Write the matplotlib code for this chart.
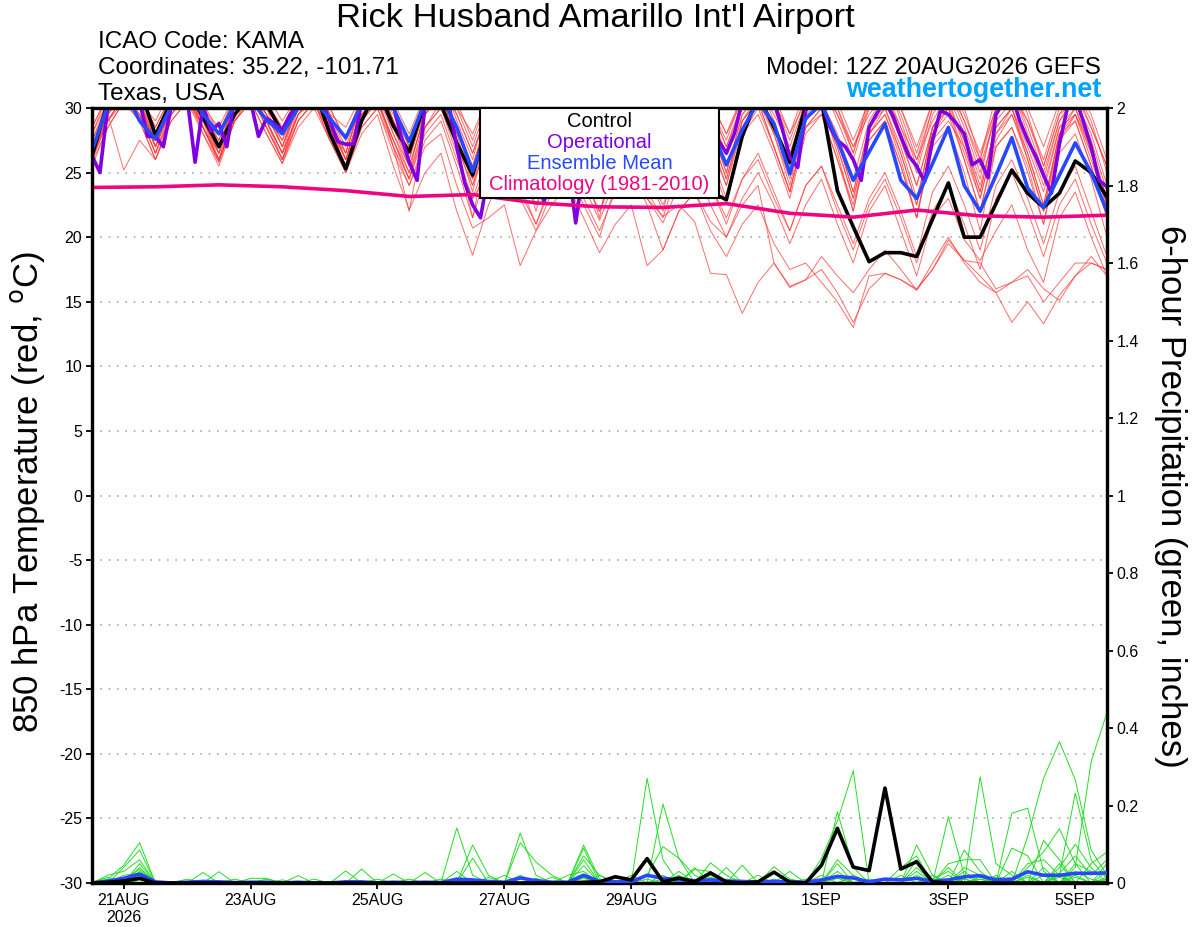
import matplotlib
matplotlib.use("Agg")
import matplotlib.pyplot as plt
from matplotlib.patches import Rectangle
import numpy as np
from datetime import datetime, timedelta

plt.rcParams['font.family'] = ['Liberation Sans', 'DejaVu Sans']

# ── time axes (GEFS run 12Z 20AUG2026) ───────────────────────
start = datetime(2026, 8, 20, 12)
times6 = [start + timedelta(hours=6 * k) for k in range(65)]
times3 = [start + timedelta(hours=3 * k) for k in range(129)]
times24 = [start + timedelta(hours=24 * k) for k in range(17)]

tick_dates = [datetime(2026, 8, 21), datetime(2026, 8, 23), datetime(2026, 8, 25),
              datetime(2026, 8, 27), datetime(2026, 8, 29), datetime(2026, 9, 1),
              datetime(2026, 9, 3), datetime(2026, 9, 5)]
tick_labels = ["21AUG\n2026", "23AUG", "25AUG", "27AUG", "29AUG", "1SEP", "3SEP", "5SEP"]

# ── 850 hPa temperature (deg C) ─────────────────────────────
control_t = [26.3, 30.5, 32, 31.5, 27.9, 30.5, 31.5, 29.3, 27.0, 29.5, 31, 30.3, 28.1,
             30.5, 31.5, 28.0, 25.3, 29.0, 31.5, 28.6, 26.6, 30.5, 30.3, 27.3, 24.8,
             29, 31.5, 30, 26, 29.5, 31.5, 30, 26.5, 30, 31.5, 30, 26, 29, 30, 23.5, 22.9,
             27.8, 31, 28.5, 25.8, 30.2, 30.5, 23.6, 20.8, 18.1, 18.8, 18.8, 18.5,
             21.4, 24.2, 20.0, 20.0, 22.6, 25.2, 23.4, 22.3, 23.4, 25.9, 25.0, 23.1]

mean_t = [26.7, 30.2, 31.5, 29.0, 27.6, 30.2, 31.5, 29.5, 28.0, 30.3, 30.6, 29.1, 28.0,
          30.0, 30.5, 29.2, 27.7, 30.3, 31, 30, 27.4, 30.5, 31, 28.5, 25.1,
          28.5, 31, 30.5, 27.5, 30, 31.5, 30.5, 27.5, 30, 31.5, 30.5, 27.5, 30, 31, 28.5, 25.6,
          28.3, 30.5, 28.8, 24.9, 29.2, 30.3, 27.5, 24.4, 26.6, 28.8, 24.4, 23.0,
          25.7, 28.5, 24.0, 22.0, 24.8, 27.7, 23.8, 22.3, 24.8, 27.3, 25.0, 22.0]

# operational run is 3-hourly
oper_t = [26.3, 25.0, 30.2, 31.5, 32, 31.5, 30.5, 27.8,
          27.8, 27.0, 30.2, 31.5, 30.8, 25.8, 30.2, 28.2,
          28.8, 27.0, 30.8, 32, 30.5, 27.8, 29.2, 28.8,
          28.3, 29.5, 30.3, 31.5, 31.5, 30.5, 29.0, 27.4,
          27.2, 27.2, 30.5, 31.5, 32, 31.5, 30.2, 27.8,
          25.8, 24.4, 30.2, 31.5, 31.5, 30.3, 27.0, 24.2,
          22.5, 21.5, 25, 29, 31, 31.5, 30, 27,
          25, 22.7, 25.5, 29, 26, 21.1, 25.5, 29.5,
          30.5, 30, 28, 26, 25, 27, 30, 31,
          30.5, 29, 27, 26, 27.5, 30, 29.5, 27.5,
          26.5, 28, 30.5, 31.5, 31.5, 31, 30.5, 28.5,
          26.2, 25.4, 29.8, 30.5, 30.5, 28.6, 27.5, 27.0,
          26.0, 24.4, 28.5, 29.6, 30.5, 29.4, 27.8, 26.3,
          25.5, 24.3, 27.5, 29.8, 29.5, 28.8, 28.0, 25.6,
          26.0, 24.6, 29.5, 30.5, 31, 29, 27.5, 26.3,
          24.8, 23.4, 27.2, 30, 30.8, 29, 27, 24.4,
          23.9]

# daily climatology 1981-2010
clim_t = [23.85, 23.9, 24.05, 23.9, 23.6, 23.15, 23.3, 22.65, 22.35,
          22.3, 22.6, 21.85, 21.55, 22.1, 21.65, 21.55, 21.7]

# ensemble members
ens_t = [
    [27.5, 30.5, 32.5, 31, 28.5, 31, 32.5, 30.5, 28, 31, 33, 31, 29, 31, 32.5, 30, 27.5,
     31, 32.5, 30.5, 28, 31, 32.5, 30, 27, 30.5, 33, 31.5, 28.5, 31, 33, 31, 28,
     31.5, 33, 31, 28.5, 31, 32.5, 30.5, 28, 31, 33, 31, 28, 31.5, 33, 30.5, 27.5,
     30.5, 32.5, 30, 27, 30.5, 32, 29.5, 26.5, 30, 32, 30, 27, 30.5, 32, 29.5, 26],
    [28.5, 31, 32, 30.5, 29, 31.5, 32.5, 30, 28.5, 31, 32, 30.5, 28, 30.5, 32, 29.5, 28.5,
     31, 33, 30, 27.5, 30.5, 32, 30, 28, 31, 32.5, 31, 27.5, 30.5, 32.5, 30.5, 27,
     31, 33, 30, 27.5, 31, 32, 30, 27, 30.5, 32.5, 30.5, 27.5, 31, 33, 30, 26.5,
     31, 32.5, 29, 25.5, 30, 32, 30, 26, 31, 32.5, 29.5, 25.5, 29.5, 31.5, 29, 25],
    [26, 29.5, 31.5, 30.5, 27.5, 30.5, 32, 30, 27, 30.5, 32, 30, 28, 30, 31.5, 28.5, 26.5,
     30.5, 32, 29, 26.5, 30, 32, 29.5, 26.5, 30, 32.5, 30.5, 27, 30.5, 32, 30, 27.5,
     30, 32.5, 31, 28, 31, 32.5, 30, 27, 30, 32, 30.5, 28, 30.5, 32, 29.5, 27,
     30, 32, 30, 26.5, 30.5, 32, 29, 25.5, 29.5, 31.5, 29, 26, 30, 31.5, 28.5, 25.5],
    [27, 30, 32, 31.5, 28, 31, 32, 29.5, 26.5, 30, 32, 30.5, 28.5, 31, 32, 29, 26,
     30, 32.5, 30, 27, 31, 32.5, 29, 26, 30.5, 32, 30, 27, 30.5, 32.5, 31, 28,
     31, 32.5, 30.5, 27, 30.5, 32, 29.5, 26.5, 30, 31.5, 29.5, 27, 30.5, 32, 29, 26,
     30, 31.5, 28.5, 25, 29.5, 31.5, 29, 26, 30, 31.5, 28, 24.5, 29, 31, 28.5, 25.5],
    [28, 30.5, 32, 30, 27, 30, 31.5, 29.5, 27.5, 31, 32.5, 30, 27, 30.5, 32, 30, 27.5,
     30, 31.5, 29.5, 27, 30.5, 32, 29.5, 26.5, 30, 32, 30.5, 28, 31, 32.5, 30, 27,
     30.5, 32, 30.5, 27.5, 30.5, 32.5, 30, 27.5, 31, 32.5, 30, 26.5, 30, 32, 30, 27,
     29.5, 31, 28.5, 26, 30, 31.5, 28.5, 25, 29.5, 31, 29, 25.5, 29.5, 30.5, 28, 24],
    [26.5, 29, 31, 30, 27.5, 30.5, 32, 30, 28, 30, 31.5, 29.5, 27.5, 31, 32.5, 29.5, 27,
     30.5, 32, 29, 26, 30.5, 32.5, 30.5, 27.5, 31, 32.5, 30, 26.5, 30, 32, 30.5, 27.5,
     30.5, 32, 29.5, 26.5, 30, 32, 30.5, 28, 30.5, 32, 29, 25.5, 30, 31.5, 29.5, 26.5,
     30.5, 32, 29.5, 26, 29, 31, 28, 24.5, 30, 31.5, 28.5, 25, 29, 30.5, 27.5, 23.5],
    [27, 29.5, 25.2, 27.5, 26, 29.5, 31.5, 29, 26.5, 30, 31.5, 29, 26.5, 29.5, 31, 28.5, 26,
     30, 31.5, 28, 25.5, 29.5, 31, 28.5, 25, 29, 31, 29.5, 25.5, 29.5, 31, 29, 25,
     29, 31, 29, 25.5, 29.5, 31, 28, 24.5, 29, 31, 28.5, 25, 29.5, 30.5, 27.5, 23.5,
     28.5, 30, 27, 23, 28, 30, 27.5, 23.5, 28.5, 30, 26.5, 22.5, 28, 29.5, 27, 22],
    [25.5, 28.5, 30.5, 29.5, 26.5, 29.5, 31, 28.5, 26, 29, 31, 29.5, 27, 30, 31, 28, 25.5,
     29, 30.5, 27.5, 24.5, 29.5, 31, 28, 24, 28.5, 30.5, 28.5, 25, 29, 30.5, 28, 24.5,
     28.5, 30.5, 28.5, 25, 29, 30.5, 27.5, 24, 29, 30.5, 27, 23.5, 28.5, 30, 27, 23,
     28, 29.5, 26.5, 22.5, 28.5, 30, 26, 22, 27.5, 29.5, 26.5, 22.5, 28, 29, 25.5, 21.5],
    [26.5, 29, 31, 30, 27, 30, 31.5, 28.5, 26.5, 30.5, 31.5, 28.5, 26, 29.5, 31.5, 28.5, 25.5,
     29.5, 31, 28, 25, 30, 31, 27.5, 24.5, 29, 30, 27, 24, 28.5, 30, 27.5, 24.5,
     28, 29.5, 27, 23.5, 28.5, 29.5, 26.5, 23, 28, 30, 27, 23.5, 28.5, 29.5, 26, 22.5,
     27.5, 29, 25.5, 21.5, 28, 29.5, 26, 22, 27, 28.5, 25, 21, 27.5, 29, 25.5, 21.5],
    [27, 30, 31.5, 30, 27.5, 30, 31, 29, 26.5, 29.5, 31, 29, 26, 30, 31.5, 29, 26,
     30, 31.5, 28.5, 25.5, 29.5, 31, 27.5, 23.5, 28.5, 30.5, 28.5, 25, 29.5, 31, 29, 25.5,
     29, 30.5, 28, 24.5, 29, 31, 28.5, 25, 29.5, 31, 28, 24, 29, 30.5, 27.5, 23.5,
     28.5, 30.5, 27.5, 24, 28.5, 30, 26.5, 23, 28, 30, 27, 23.5, 28.5, 29.5, 26, 22.5],
    [28, 31, 32, 30.5, 28, 30.5, 31.5, 29, 27, 30.5, 32, 29.5, 27.5, 30, 31.5, 28.5, 25.5,
     29.5, 31, 28.5, 26, 30, 31.5, 28, 25.5, 29.5, 31, 28, 25, 29, 30.5, 28.5, 25.5,
     29.5, 31, 28.5, 25, 29, 30, 27, 24, 28.5, 30.5, 28, 24.5, 29, 30.5, 26.5, 22,
     28, 29.5, 26, 21.5, 27.5, 29, 27, 23, 28, 29.5, 26, 22, 27.5, 29.5, 26.5, 22.5],
    [27, 30.5, 32, 30.5, 27.5, 31, 32, 29.5, 27.5, 30.5, 31.5, 29.5, 27, 30.5, 31.5, 29, 26.5,
     30.5, 32, 29, 26.5, 30, 31.5, 28.5, 25.5, 29.5, 31.5, 29, 26, 30, 31.5, 28.5, 25.5,
     29.5, 31, 29, 26, 30, 31.5, 28.5, 25, 29.5, 31, 28.5, 25, 29, 30.5, 28, 24.5,
     29, 31, 27.5, 24, 28.5, 30.5, 27, 23.5, 29, 30.5, 27.5, 24, 28.5, 30, 26.5, 23],
    [26, 29.5, 31.5, 30.5, 27, 30.5, 31.5, 29, 26, 30, 31.5, 29, 26.5, 30.5, 31, 28, 25.5,
     30, 31, 27, 22, 28.5, 30.5, 27, 21.5, 27.5, 29.5, 26, 22, 27, 28.5, 25.5, 21.5,
     27.5, 28.5, 25, 22, 27, 29, 26, 22.5, 28, 29.5, 26.5, 23, 28, 29.5, 26, 22,
     27.5, 29, 25.5, 21.5, 27, 28.5, 25, 20.5, 27, 28.5, 25.5, 21, 26.5, 28, 24.5, 20],
    [28.5, 31, 33, 31, 28.5, 31, 32.5, 30, 27, 30.5, 32, 30.5, 28, 31, 32, 29.5, 26.5,
     30.5, 32, 29, 26.5, 30, 31.5, 28.5, 24.5, 29.5, 31, 29, 26, 29.5, 30.5, 28, 24.5,
     29, 30.5, 28.5, 25.5, 29.5, 31, 28, 24.5, 29, 30.5, 27, 23.5, 28.5, 30, 27, 23,
     28, 30, 26.5, 22.5, 28.5, 30.5, 27.5, 24, 28.5, 30, 26, 22, 28, 30, 27, 23],
    [27, 30, 31.5, 30, 27, 30, 31, 28.5, 26, 29.5, 31, 28.5, 26, 29, 30.5, 27.5, 25,
     28, 29.5, 25.5, 22.1, 25, 26.5, 22, 18.6, 22.5, 25, 23.5, 21, 24.5, 26.5, 24.5, 22,
     25.5, 27.5, 25, 22.5, 25, 26.5, 24, 21.5, 24.5, 26, 23, 20.5, 24, 25.5, 22.5, 19.5,
     23, 25, 22, 18.5, 23.5, 25.5, 22.5, 19, 24, 26, 23, 19.5, 23.5, 25.5, 22, 18.5],
    [26.5, 29.5, 31, 29.5, 26.5, 30, 31, 28, 25.8, 29, 30.5, 28, 25.7, 29, 30.5, 28, 25,
     28.5, 30, 26.5, 24, 27, 28, 24, 20.7, 21.5, 22.5, 17.8, 20.5, 23.5, 25, 22.5, 20,
     24, 26, 23.5, 21.5, 25.5, 27, 24, 21, 24.5, 26.5, 23.5, 20.5, 24, 25.5, 22, 19,
     22.5, 24.5, 21.5, 18, 22, 24, 21, 17.5, 23, 25, 22, 18.5, 22.5, 24.5, 21, 18],
    [25.8, 28.5, 30.5, 29, 26, 29, 30.5, 28.5, 25.8, 29.5, 31, 28.5, 26, 29, 30.5, 27.5, 25.5,
     29, 30.5, 27, 24.5, 28, 29.5, 26, 23, 25, 26.5, 23, 20.5, 22.5, 24, 21.5, 18.8,
     21, 22.5, 17.8, 19, 22, 23.5, 21.2, 20, 23, 25, 22.5, 19.5, 22.5, 24.5, 21, 18,
     22, 24, 20.5, 17, 21.5, 23, 19.8, 18.2, 20.5, 22.5, 19, 16.5, 21.5, 23.5, 20, 17],
    [26, 29, 31, 29.5, 26.5, 29.5, 31, 28.5, 26, 29, 30.5, 29, 26.5, 29.5, 30.5, 28, 25.5,
     29.5, 30.5, 27.5, 24.5, 28.5, 30, 27, 24, 27.5, 29, 26, 23, 26, 27.5, 24.5, 22,
     25, 26.5, 23, 21.6, 22.5, 21.2, 17.2, 17.1, 14.1, 16.5, 18, 16.1, 16.7, 17.5, 15.7, 13.4,
     16, 17.2, 16.7, 15.9, 17.5, 19.8, 18.2, 17, 15.7, 16.5, 17.5, 16, 15.1, 17, 18, 17.5],
    [27.5, 30, 31.5, 30, 27, 30.5, 31.5, 28.5, 26, 29.5, 31, 29, 26.5, 29.5, 31, 28.5, 26,
     29.5, 30.5, 27.5, 25, 28.5, 30, 26.5, 23, 26.5, 28, 25, 22.5, 25.5, 27.5, 24, 21.3,
     24.5, 26, 23, 21.1, 24, 25.5, 22.5, 20, 22.5, 24, 18, 16.2, 16.7, 18.5, 17, 15.7,
     17.5, 19, 17.5, 15.9, 18, 20, 18, 16.5, 15.7, 13.4, 15, 13.3, 15.5, 17, 18.5, 17],
    [26, 29, 30.5, 29, 26, 29, 30.5, 28, 25.5, 29, 30.5, 28, 25.7, 28.5, 30, 27.5, 25,
     28.5, 30, 27, 24, 27.5, 29, 25.5, 21.5, 25.5, 27, 24, 21, 24, 26, 23, 20.5,
     23.5, 25, 22.5, 19, 22, 23.5, 20.5, 18.5, 21, 22.5, 19.5, 17.5, 18, 16.5, 15, 13,
     17, 17.2, 16.7, 16, 17.5, 19.5, 18.2, 18, 16, 16.5, 17, 15, 16.5, 18, 18, 17.5],
]

# ── 6-hour precipitation (inches) ───────────────────────────
control_p = [0, 0.002, 0.005, 0.012, 0, 0, 0, 0, 0, 0, 0, 0, 0, 0, 0, 0, 0,
             0, 0, 0, 0, 0, 0, 0, 0, 0, 0, 0, 0, 0, 0, 0.002, 0.003,
             0.016, 0.008, 0.063, 0.003, 0.013, 0.003, 0.026, 0.003, 0, 0.003, 0.028, 0.002,
             0, 0.046, 0.141, 0.041, 0.032, 0.245, 0.036, 0.055, 0.003,
             0, 0, 0, 0, 0, 0, 0, 0, 0, 0, 0]

mean_p = [0, 0.005, 0.012, 0.023, 0.003, 0, 0.002, 0.004, 0.003, 0.001, 0.002, 0.002, 0,
          0.002, 0, 0, 0.003, 0.003, 0, 0.002, 0.001, 0.002, 0.001, 0.01, 0.008,
          0.004, 0.002, 0.013, 0.006, 0.002, 0.002, 0.02, 0.004, 0.003, 0.003, 0.02, 0.012,
          0.008, 0.006, 0.008, 0.005, 0.004, 0.002, 0.004, 0.003, 0.002, 0.008, 0.017, 0.013,
          0.003, 0.01, 0.008, 0.012, 0.004, 0.008, 0.016, 0.019, 0.008, 0.01, 0.029, 0.02,
          0.02, 0.025, 0.025, 0.026]

# non-zero 6-hour totals of each member, keyed by time step
ens_p_events = [
    {1: 0.01, 2: 0.046, 3: 0.104, 23: 0.142, 24: 0.02, 35: 0.27, 36: 0.06, 47: 0.184,
     48: 0.04, 59: 0.12, 60: 0.27, 61: 0.365, 62: 0.266, 63: 0.085, 64: 0.02},
    {2: 0.04, 3: 0.085, 17: 0.036, 27: 0.129, 28: 0.02, 36: 0.204, 37: 0.064, 46: 0.064,
     47: 0.16, 48: 0.29, 54: 0.171, 55: 0.02, 62: 0.04, 63: 0.313, 64: 0.44},
    {1: 0.02, 2: 0.03, 3: 0.06, 7: 0.027, 24: 0.098, 25: 0.02, 31: 0.098, 32: 0.01,
     39: 0.052, 40: 0.02, 52: 0.098, 53: 0.02, 56: 0.274, 57: 0.05, 58: 0.02, 61: 0.02,
     62: 0.232, 63: 0.06, 64: 0.01},
    {1: 0.005, 3: 0.04, 8: 0.029, 24: 0.064, 27: 0.104, 28: 0.054, 29: 0.02, 31: 0.09,
     38: 0.04, 41: 0.046, 51: 0.04, 52: 0.07, 55: 0.085, 56: 0.03, 58: 0.18, 59: 0.193,
     60: 0.03},
    {3: 0.03, 10: 0.012, 11: 0.012, 19: 0.023, 31: 0.07, 32: 0.02, 37: 0.03, 43: 0.042,
     44: 0.01, 47: 0.06, 48: 0.02, 54: 0.05, 55: 0.06, 56: 0.06, 59: 0.05, 60: 0.06,
     61: 0.02, 64: 0.05},
    {2: 0.02, 3: 0.025, 13: 0.019, 21: 0.027, 31: 0.06, 34: 0.02, 40: 0.04, 44: 0.03,
     47: 0.03, 52: 0.03, 54: 0.04, 58: 0.09, 59: 0.07, 61: 0.04, 62: 0.1, 63: 0.04},
    {3: 0.02, 6: 0.01, 16: 0.031, 23: 0.03, 31: 0.045, 38: 0.035, 39: 0.03, 46: 0.02,
     49: 0.01, 55: 0.04, 56: 0.02, 60: 0.11, 61: 0.06, 64: 0.03},
    {1: 0.015, 3: 0.05, 11: 0.01, 25: 0.015, 30: 0.02, 31: 0.03, 35: 0.02, 36: 0.094,
     37: 0.064, 38: 0.02, 52: 0.06, 57: 0.02, 62: 0.05, 63: 0.03, 64: 0.02},
    {2: 0.01, 3: 0.035, 9: 0.01, 26: 0.02, 28: 0.01, 33: 0.02, 39: 0.02, 42: 0.02,
     48: 0.02, 53: 0.01, 54: 0.03, 59: 0.04, 60: 0.08, 61: 0.14, 62: 0.05, 64: 0.01},
    {3: 0.015, 14: 0.01, 20: 0.01, 29: 0.015, 32: 0.02, 37: 0.02, 45: 0.01, 47: 0.05,
     51: 0.02, 55: 0.03, 61: 0.025, 62: 0.07, 63: 0.02, 64: 0.06},
    {3: 0.02, 24: 0.01, 31: 0.02, 36: 0.02, 52: 0.04, 56: 0.015, 62: 0.03, 63: 0.01},
    {2: 0.01, 18: 0.01, 39: 0.015, 47: 0.02, 55: 0.01, 60: 0.04, 64: 0.01},
    {3: 0.01, 27: 0.02, 40: 0.01, 53: 0.02, 58: 0.03, 61: 0.05},
    {31: 0.015, 43: 0.01, 54: 0.02, 59: 0.02, 62: 0.02},
    {3: 0.012, 23: 0.01, 35: 0.01, 48: 0.015, 56: 0.01, 63: 0.05, 64: 0.08},
    {12: 0.008, 28: 0.012, 44: 0.01, 57: 0.015, 60: 0.02},
    {3: 0.008, 36: 0.01, 52: 0.02, 61: 0.015},
    {22: 0.01, 47: 0.012, 55: 0.01, 62: 0.015},
    {3: 0.02, 31: 0.012, 56: 0.01},
    {39: 0.01, 59: 0.015, 64: 0.015},
]

ens_p = []
for ev in ens_p_events:
    arr = np.zeros(len(times6))
    for k, v in ev.items():
        arr[k] = v
    ens_p.append(arr)

right_ticks = [0, 0.2, 0.4, 0.6, 0.8, 1.0, 1.2, 1.4, 1.6, 1.8, 2.0]
right_labels = ["0", "0.2", "0.4", "0.6", "0.8", "1", "1.2", "1.4", "1.6", "1.8", "2"]

# ── colours ─────────────────────────────────────────────────
C_RED = "#ff3a3a"
C_GREEN = "#22dd22"
C_OPER = "#8000e0"
C_MEAN = "#2848ff"
C_CLIM = "#ee0580"
C_SITE = "#00a2ff"

# ── figure ──────────────────────────────────────────────────
fig = plt.figure(figsize=(12, 9.27), dpi=100)
ax = fig.add_axes([92 / 1200, 44 / 927, 1015 / 1200, 775 / 927])
ax2 = ax.twinx()

for m in ens_t:
    ax.plot(times6, m, color=C_RED, lw=0.7, alpha=0.75, zorder=2)
ax.plot(times6, control_t, color="black", lw=2.6, zorder=3)
ax.plot(times3, oper_t, color=C_OPER, lw=2.6, zorder=4)
ax.plot(times6, mean_t, color=C_MEAN, lw=2.6, zorder=5)
ax.plot(times24, clim_t, color=C_CLIM, lw=2.6, zorder=6)

for m in ens_p:
    ax2.plot(times6, m, color=C_GREEN, lw=0.7, zorder=2)
ax2.plot(times6, mean_p, color=C_MEAN, lw=2.6, zorder=3)
ax2.plot(times6, control_p, color="black", lw=2.6, zorder=4)

ax.set_xlim(times6[0], times6[-1])
ax.set_ylim(-30, 30)
ax2.set_ylim(0, 2)

ax.set_yticks(range(-30, 31, 5))
ax.set_yticklabels([str(v) for v in range(-30, 31, 5)])
ax2.set_yticks(right_ticks)
ax2.set_yticklabels(right_labels)
ax.set_xticks(tick_dates)
ax.set_xticklabels(tick_labels, linespacing=1.15)

ax.yaxis.grid(True, color="#aaaaaa", linestyle=(0, (1, 4)), lw=1.2)
ax.set_axisbelow(True)

for a in (ax, ax2):
    for s in a.spines.values():
        s.set_linewidth(2.3)
    a.tick_params(axis="both", direction="out", length=4, width=1.3,
                  labelsize=11.5, pad=3)

# legend box
ax2.add_patch(Rectangle((0.3823, 0.8835), 0.2355, 0.1165, transform=ax2.transAxes,
                        facecolor="white", edgecolor="black", lw=1.5, zorder=10,
                        clip_on=False))
leg_items = [("Control", "black", 0.983), ("Operational", C_OPER, 0.956),
             ("Ensemble Mean", C_MEAN, 0.929), ("Climatology (1981-2010)", C_CLIM, 0.901)]
for txt, col, yy in leg_items:
    ax2.text(0.5, yy, txt, color=col, fontsize=14.5, ha="center", va="center",
             transform=ax2.transAxes, zorder=11)

# header texts
fig.text(595 / 1200, 1 - 27 / 927, "Rick Husband Amarillo Int'l Airport",
         fontsize=24.8, ha="center", va="baseline")
fig.text(98 / 1200, 1 - 48 / 927, "ICAO Code: KAMA", fontsize=17.5, va="baseline")
fig.text(98 / 1200, 1 - 74 / 927, "Coordinates: 35.22, -101.71", fontsize=17.5,
         va="baseline")
fig.text(98 / 1200, 1 - 100 / 927, "Texas, USA", fontsize=17.5, va="baseline")
fig.text(1101 / 1200, 1 - 74 / 927, "Model: 12Z 20AUG2026 GEFS", fontsize=17.5,
         ha="right", va="baseline")
fig.text(1101 / 1200, 1 - 97 / 927, "weathertogether.net", fontsize=19.4,
         fontweight="bold", color=C_SITE, ha="right", va="baseline")

fig.text(28 / 1200, 1 - 492 / 927, "850 hPa Temperature (red, $^{\\mathrm{o}}$C)",
         fontsize=25, rotation=90, ha="center", va="center")
fig.text(1170 / 1200, 1 - 496 / 927, "6-hour Precipitation (green, inches)",
         fontsize=25, rotation=270, ha="center", va="center")

fig.savefig("out.png", dpi=100)
